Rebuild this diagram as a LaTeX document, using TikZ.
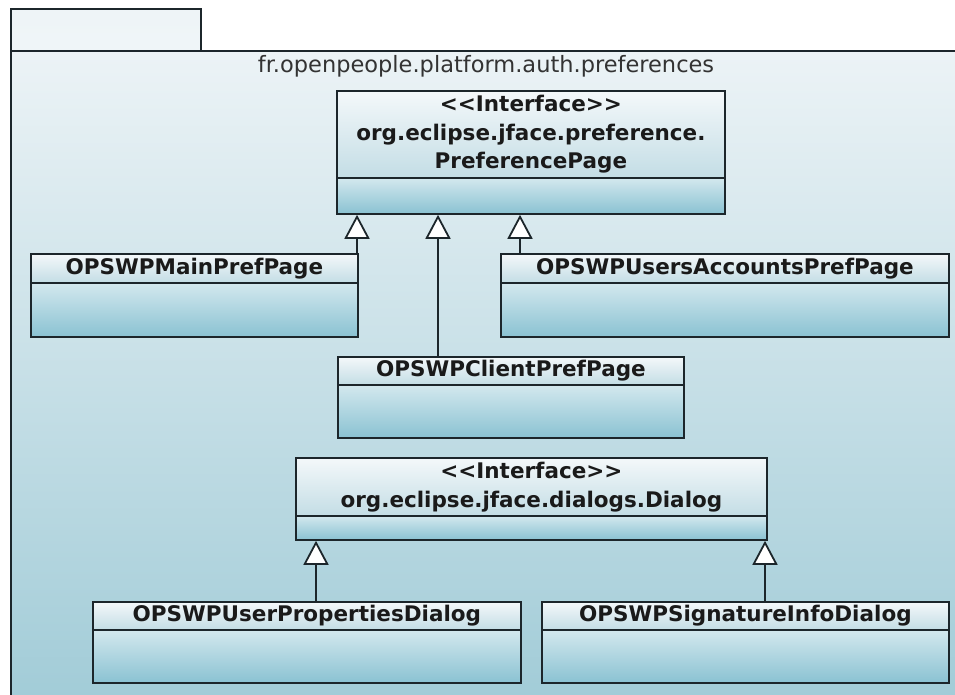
\documentclass[tikz,border=0pt]{standalone}
\usepackage{fontspec}
\setmainfont{DejaVu Sans}
\usetikzlibrary{arrows.meta}
\definecolor{ink}{HTML}{1C262B}
\definecolor{txt}{HTML}{1A1A1A}
\definecolor{pkgtop}{HTML}{ECF3F6}
\definecolor{pkgbot}{HTML}{9ECAD6}
\definecolor{tabfill}{HTML}{EEF4F7}
\definecolor{hdtop}{HTML}{F4F8FA}
\definecolor{hdbot}{HTML}{C3DDE5}
\definecolor{bdtop}{HTML}{D3E8EE}
\definecolor{bdbot}{HTML}{8AC2D2}
\newcommand{\ltlt}{<\kern0pt<}
\newcommand{\gtgt}{>\kern0pt>}
\tikzset{
  pkgline/.style={draw=ink, line width=1.8pt},
  hd/.style={rectangle, draw=ink, line width=1.8pt, top color=hdtop, bottom color=hdbot,
    inner sep=0pt, anchor=north west, align=center, text=txt,
    font=\fontsize{21.5}{28.5}\selectfont\bfseries},
  bd/.style={rectangle, draw=ink, line width=1.8pt, top color=bdtop, bottom color=bdbot,
    inner sep=0pt, anchor=north west},
  gen/.style={draw=ink, line width=1.8pt, -{Triangle[length=24pt,width=25pt,fill=white]}}
}
\begin{document}
\begin{tikzpicture}[x=1pt,y=-1pt]
\useasboundingbox (0,0) rectangle (955,695);
\begin{scope}
\clip (0,0) rectangle (955,695);
\fill[white] (0,0) rectangle (955,695);
\node[pkgline, rectangle, inner sep=0pt, top color=tabfill, bottom color=hdtop!90!hdbot, minimum width=190pt, minimum height=42pt, anchor=north west] (pkgtab) at (10,8) {};
\node[pkgline, rectangle, inner sep=0pt, top color=pkgtop, bottom color=pkgbot, minimum width=980pt, minimum height=680pt, anchor=north west] (pkg) at (10,50) {};
\end{scope}
\node[text=black!80, font=\fontsize{22.5}{26}\selectfont] (pkglabel) at (486,66) {fr.openpeople.platform.auth.preferences};

% PreferencePage interface
\node[hd, minimum width=388pt, minimum height=87pt] (prefh) at (336,90)
  {\ltlt Interface\gtgt\\org.eclipse.jface.preference.\\PreferencePage};
\node[bd, minimum width=388pt, minimum height=36pt] (pref) at (336,177) {};

% Main pref page
\node[hd, minimum width=327pt, minimum height=29pt] (mainh) at (30,253) {OPSWPMainPrefPage};
\node[bd, minimum width=327pt, minimum height=54pt] (main) at (30,282) {};

% Users accounts pref page
\node[hd, minimum width=448pt, minimum height=29pt] (usersh) at (500,253) {OPSWPUsersAccountsPrefPage};
\node[bd, minimum width=448pt, minimum height=54pt] (users) at (500,282) {};

% Client pref page
\node[hd, minimum width=346pt, minimum height=28pt] (clienth) at (337,356) {OPSWPClientPrefPage};
\node[bd, minimum width=346pt, minimum height=53pt] (client) at (337,384) {};

% Dialog interface
\node[hd, minimum width=471pt, minimum height=58pt] (dlgh) at (295,457)
  {\ltlt Interface\gtgt\\org.eclipse.jface.dialogs.Dialog};
\node[bd, minimum width=471pt, minimum height=24pt] (dlg) at (295,515) {};

% User properties dialog
\node[hd, minimum width=428pt, minimum height=28pt] (uph) at (92,601) {OPSWPUserPropertiesDialog};
\node[bd, minimum width=428pt, minimum height=53pt] (up) at (92,629) {};

% Signature info dialog
\node[hd, minimum width=407pt, minimum height=28pt] (sigh) at (541,601) {OPSWPSignatureInfoDialog};
\node[bd, minimum width=407pt, minimum height=53pt] (sig) at (541,629) {};

% generalizations
\draw[gen] ([xshift=21pt]pref.south west |- mainh.north) -- ([xshift=21pt]pref.south west);
\draw[gen] ([xshift=101pt]clienth.north west) -- ([xshift=101pt]clienth.north west |- pref.south);
\draw[gen] ([xshift=184pt]pref.south west |- usersh.north) -- ([xshift=184pt]pref.south west);
\draw[gen] ([xshift=21pt]dlg.south west |- uph.north) -- ([xshift=21pt]dlg.south west);
\draw[gen] ([xshift=224pt]sigh.north west) -- ([xshift=224pt]sigh.north west |- dlg.south);
\end{tikzpicture}
\end{document}
